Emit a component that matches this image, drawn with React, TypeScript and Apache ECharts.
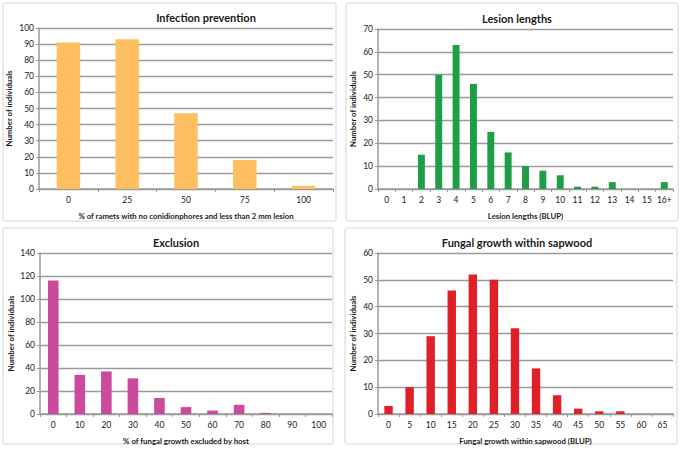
import React, { useEffect, useRef } from "react";
import * as echarts from "echarts";

const p1Categories = ["0", "25", "50", "75", "100"];
const p1Values = [91, 93, 47, 18, 2];

const p2Categories = ["0", "1", "2", "3", "4", "5", "6", "7", "8", "9", "10", "11", "12", "13", "14", "15", "16+"];
const p2Values = [0, 0, 15, 50, 63, 46, 25, 16, 10, 8, 6, 1, 1, 3, 0, 0, 3];

const p3Categories = ["0", "10", "20", "30", "40", "50", "60", "70", "80", "90", "100"];
const p3Values = [116, 34, 37, 31, 14, 6, 3, 8, 1, 0, 0];

const p4Categories = ["0", "5", "10", "15", "20", "25", "30", "35", "40", "45", "50", "55", "60", "65"];
const p4Values = [3, 10, 29, 46, 52, 50, 32, 17, 7, 2, 1, 1, 0, 0];

const titles = ["Infection prevention", "Lesion lengths", "Exclusion", "Fungal growth within sapwood"];
const xNames = [
  "% of ramets with no conidionphores and less than 2 mm lesion",
  "Lesion lengths (BLUP)",
  "% of fungal growth excluded by host",
  "Fungal growth within sapwood (BLUP)",
];
const yName = "Number of individuals";
const yMax = [100, 70, 140, 60];
const yStep = [10, 10, 20, 10];
const colors = ["#FDBF5F", "#1F9D47", "#CC4A9E", "#E02027"];

const FONT = "Lato, 'Open Sans', sans-serif";
const TEXT = "#1a1a1a";
const GRID = "#9a9a9a";

export default function App() {
  const ref = useRef<HTMLDivElement>(null);
  useEffect(() => {
    document.body.style.margin = "0";
    const chart = echarts.init(ref.current!, null, { renderer: "svg" });
    const cats = [p1Categories, p2Categories, p3Categories, p4Categories];
    const vals = [p1Values, p2Values, p3Values, p4Values];
    const grids = [
      { left: 39, top: 28, right: 348, bottom: 260 },
      { left: 378, top: 29, right: 8, bottom: 260 },
      { left: 40, top: 253, right: 349, bottom: 35 },
      { left: 378, top: 253, right: 8, bottom: 35 },
    ];
    const yGaps = [26, 21, 25, 21];
    const boxes = [
      { x: 3, y: 3, w: 333, h: 218 },
      { x: 346, y: 3, w: 332, h: 218 },
      { x: 3, y: 228, w: 330, h: 216 },
      { x: 345, y: 228, w: 332, h: 216 },
    ];
    const titlePos = [
      { x: 201, y: 7 },
      { x: 512, y: 8 },
      { x: 171, y: 232 },
      { x: 512, y: 232 },
    ];
    const option: any = {
      animation: false,
      backgroundColor: "#fff",
      title: titles.map((t, i) => ({
        text: t,
        left: titlePos[i].x,
        top: titlePos[i].y,
        textAlign: "center",
        textStyle: { fontFamily: FONT, fontSize: 11, fontWeight: "bold", color: TEXT },
      })),
      graphic: boxes.map((b) => ({
        type: "rect",
        shape: { x: b.x, y: b.y, width: b.w, height: b.h, r: 2 },
        style: { fill: "none", stroke: "#d4d4d4", lineWidth: 1 },
        z: -1,
      })),
      grid: grids,
      xAxis: cats.map((c, i) => ({
        type: "category",
        gridIndex: i,
        data: c,
        name: xNames[i],
        nameLocation: "middle",
        nameGap: 23,
        nameTextStyle: { fontFamily: FONT, fontSize: 7.8, fontWeight: "bold", color: TEXT },
        axisLine: { lineStyle: { color: GRID, width: 1.5 } },
        axisTick: { show: true, length: 3, lineStyle: { color: GRID } },
        axisLabel: { fontFamily: FONT, fontSize: 8.5, color: TEXT, margin: 6, interval: 0 },
      })),
      yAxis: cats.map((_, i) => ({
        type: "value",
        gridIndex: i,
        min: 0,
        max: yMax[i],
        interval: yStep[i],
        name: yName,
        nameLocation: "middle",
        nameGap: yGaps[i],
        nameRotate: 90,
        nameTextStyle: { fontFamily: FONT, fontSize: 7.8, fontWeight: "bold", color: TEXT },
        axisLine: { show: true, lineStyle: { color: GRID, width: 1.5 } },
        axisTick: { show: true, length: 3, lineStyle: { color: GRID } },
        axisLabel: { fontFamily: FONT, fontSize: 8.5, color: TEXT, margin: 5 },
        splitLine: { show: true, lineStyle: { color: GRID, width: 1.3 } },
      })),
      series: vals.map((v, i) => ({
        type: "bar",
        xAxisIndex: i,
        yAxisIndex: i,
        data: v,
        barCategoryGap: "60%",
        itemStyle: { color: colors[i] },
      })),
    };
    chart.setOption(option);
    return () => chart.dispose();
  }, []);
  return (
    <div
      ref={ref}
      style={{ position: "absolute", left: 0, top: 0, width: 681, height: 449, background: "#fff" }}
    />
  );
}
